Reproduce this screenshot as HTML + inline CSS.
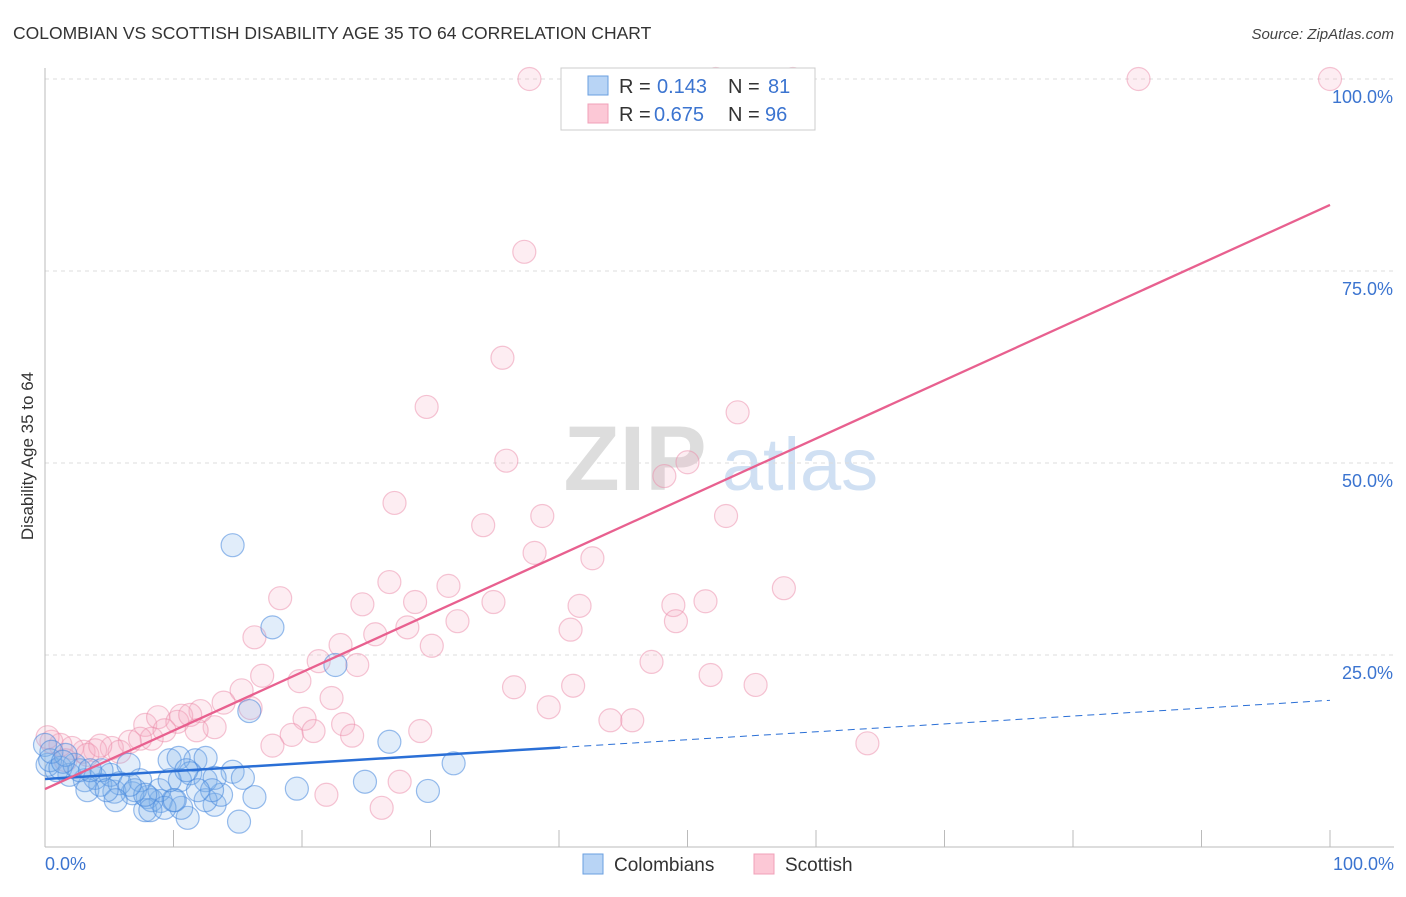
<!DOCTYPE html>
<html><head><meta charset="utf-8"><style>
body{margin:0;background:#fff;font-family:"Liberation Sans",sans-serif;}
svg text{font-family:"Liberation Sans",sans-serif;}
</style></head><body>
<svg id="chart" width="1406" height="892" viewBox="0 0 1406 892" xmlns="http://www.w3.org/2000/svg">
<text x="13" y="39" font-size="17.5" fill="#333">COLOMBIAN VS SCOTTISH DISABILITY AGE 35 TO 64 CORRELATION CHART</text>
<text x="1394" y="39" font-size="15" fill="#444" text-anchor="end" font-style="italic">Source: ZipAtlas.com</text>
<text transform="translate(33,456) rotate(-90)" font-size="17" fill="#333" text-anchor="middle">Disability Age 35 to 64</text>
<g>
<text x="635" y="490" font-size="92" fill="#ddd" text-anchor="middle" font-family="Liberation Serif" font-weight="bold">ZIP</text>
<text x="800" y="490" font-size="74" fill="#d0e0f3" text-anchor="middle">atlas</text>
</g>
<g id="grid"></g>
<g id="axes"></g>
<g id="pts"></g>
<g id="trend"></g>
<g>
<rect x="561" y="68" width="254" height="62" fill="#fff" stroke="#ccc"/>
<rect x="588" y="76" width="20" height="19" fill="#b8d4f5" stroke="#6a9fe0"/>
<text x="619" y="93" font-size="20" fill="#333">R = </text><text x="657" y="93" font-size="20" fill="#3b74d0">0.143</text>
<text x="728" y="93" font-size="20" fill="#333">N = </text><text x="768" y="93" font-size="20" fill="#3b74d0">81</text>
<rect x="588" y="104" width="20" height="19" fill="#fcc8d6" stroke="#f0a0b8"/>
<text x="619" y="121" font-size="20" fill="#333">R = </text><text x="654" y="121" font-size="20" fill="#3b74d0">0.675</text>
<text x="728" y="121" font-size="20" fill="#333">N = </text><text x="765" y="121" font-size="20" fill="#3b74d0">96</text>
</g>
<g>
<rect x="583" y="854" width="20" height="20" fill="#b8d4f5" stroke="#6a9fe0"/>
<text x="614" y="871" font-size="19" fill="#333">Colombians</text>
<rect x="754" y="854" width="20" height="20" fill="#fcc8d6" stroke="#f0a0b8"/>
<text x="785" y="871" font-size="19" fill="#333">Scottish</text>
</g>
</svg>
<script>
const yTicks=[25,50,75,100];
const yTickLabels=["25.0%","50.0%","75.0%","100.0%"];
const xEndLabels=["0.0%","100.0%"];
const pinkX=[37.7,52.2,58.2,85.1,100,37.3,35.6,29.7,53.9,35.9,50.0,48.2,27.2,34.1,38.7,53.0,38.1,42.6,26.8,31.4,57.5,18.3,24.7,28.8,34.9,41.6,48.9,51.4,32.1,49.1,28.2,40.9,25.7,16.3,23.0,30.1,24.3,47.2,16.9,19.8,21.3,51.8,36.5,41.1,55.3,15.3,22.3,13.9,39.2,16.0,12.1,10.6,20.2,44.0,45.7,23.2,19.2,20.9,29.2,23.9,7.8,8.8,10.3,13.2,11.8,17.7,64.0,8.3,6.6,5.2,3.9,3.0,2.1,1.2,0.5,0.2,1.6,3.3,5.8,21.9,27.6,26.2,4.3,7.4,9.3,11.3];
const pinkY=[100,100,100,100,100,77.5,63.7,57.3,56.6,50.3,50.1,48.3,44.8,41.9,43.1,43.1,38.3,37.6,34.5,34.0,33.7,32.4,31.6,31.9,31.9,31.4,31.5,32.0,29.4,29.4,28.6,28.3,27.7,27.3,26.3,26.2,23.7,24.1,22.3,21.6,24.2,22.4,20.8,21.0,21.1,20.4,19.4,18.8,18.2,18.1,17.7,17.1,16.7,16.5,16.5,16.0,14.6,15.1,15.1,14.5,15.9,16.9,16.3,15.6,15.2,13.2,13.5,14.1,13.7,12.9,12.6,12.4,12.9,13.3,13.7,14.3,11.3,12.0,12.4,6.8,8.5,5.1,13.2,14.1,15.2,17.2];
const blueX=[14.6,17.7,22.6,15.9,26.8,31.8,29.8,24.9,19.6,15.1,16.3,11.1,13.2,14.6,15.4,12.5,13.7,10.6,9.0,10.0,8.0,7.8,8.3,6.8,5.4,4.3,3.1,1.9,0.9,0.2,0,0.4,1.2,2.7,3.9,5.1,6.5,7.4,9.7,11.7,10.4,12.5,11.3,12.5,13.2,5.8,7.0,8.9,10.5,13.0,4.4,2.3,1.6,8.2,9.3,10.1,7.8,11.9,6.6,5.5,3.3,4.8,0.5,1.4,3.5,9.7,11.0];
const blueY=[39.3,28.6,23.7,17.7,13.7,10.9,7.3,8.5,7.6,3.3,6.5,3.8,5.5,9.8,9.0,6.1,6.8,5.1,6.0,6.1,6.5,4.8,6.1,7.0,7.2,8.1,8.7,9.4,10.0,10.7,13.3,11.3,10.3,10.0,9.0,9.4,10.7,8.7,11.3,11.3,11.6,11.6,9.6,8.7,9.0,8.3,7.4,7.4,8.7,7.4,10.0,10.7,12.0,4.8,5.1,6.1,6.8,7.4,8.1,6.1,7.4,7.4,12.4,11.1,10.0,8.7,10.0];
const blueTrend=[8.85,19.1];
const blueSolidEnd=40.1;
const pinkTrend=[7.55,83.6];
const NS="http://www.w3.org/2000/svg";
const X=v=>45+v*12.85, Y=v=>847-v*7.68;
function mk(tag,attrs,parent){const e=document.createElementNS(NS,tag);for(const k in attrs)e.setAttribute(k,attrs[k]);parent.appendChild(e);return e;}
const grid=document.getElementById('grid'),axes=document.getElementById('axes'),pts=document.getElementById('pts'),trend=document.getElementById('trend');
yTicks.forEach((t,i)=>{
 const l=mk('line',{x1:45,x2:1394,y1:Y(t),y2:Y(t),stroke:'#ddd','stroke-dasharray':'4,4'},grid);
 
 
 const tx=mk('text',{x:1393,y:Y(t)+24,'font-size':18,fill:'#3b74d0','text-anchor':'end'},grid);
 tx.textContent=yTickLabels[i];
 
 
});
const ax=mk('line',{x1:45,x2:1394,y1:847,y2:847,stroke:'#bbb'},axes);


const ay=mk('line',{x1:45,x2:45,y1:68,y2:847,stroke:'#bbb'},axes);


for(let k=1;k<=10;k++){
 const t=mk('line',{x1:X(k*10),x2:X(k*10),y1:830,y2:847,stroke:'#bbb'},axes);
 
 
}
[[0,'start',45],[100,'end',1394]].forEach((d,i)=>{
 const t=mk('text',{x:d[2],y:870,'font-size':18,fill:'#3b74d0','text-anchor':d[1]},axes);
 t.textContent=xEndLabels[i];
 
 
});
pinkX.forEach((v,i)=>{
 const c=mk('circle',{cx:X(v),cy:Y(pinkY[i]),r:11.5,fill:'rgba(248,175,198,0.22)',stroke:'rgba(235,140,170,0.5)','stroke-width':1.2},pts);
 
 
});
blueX.forEach((v,i)=>{
 const c=mk('circle',{cx:X(v),cy:Y(blueY[i]),r:11.5,fill:'rgba(130,178,235,0.24)',stroke:'rgba(70,135,220,0.55)','stroke-width':1.2},pts);
 
 
});
const by=x=>blueTrend[0]+(blueTrend[1]-blueTrend[0])*x/100;
const b1=mk('line',{x1:X(0),y1:Y(by(0)),x2:X(blueSolidEnd),y2:Y(by(blueSolidEnd)),stroke:'#2a6fd6','stroke-width':2.5},trend);


const b2=mk('line',{x1:X(blueSolidEnd),y1:Y(by(blueSolidEnd)),x2:X(100),y2:Y(by(100)),stroke:'#2a6fd6','stroke-width':1,'stroke-dasharray':'7,5'},trend);


const p1=mk('line',{x1:X(0),y1:Y(pinkTrend[0]),x2:X(100),y2:Y(pinkTrend[1]),stroke:'#e8608f','stroke-width':2.3},trend);


</script>
</body></html>
